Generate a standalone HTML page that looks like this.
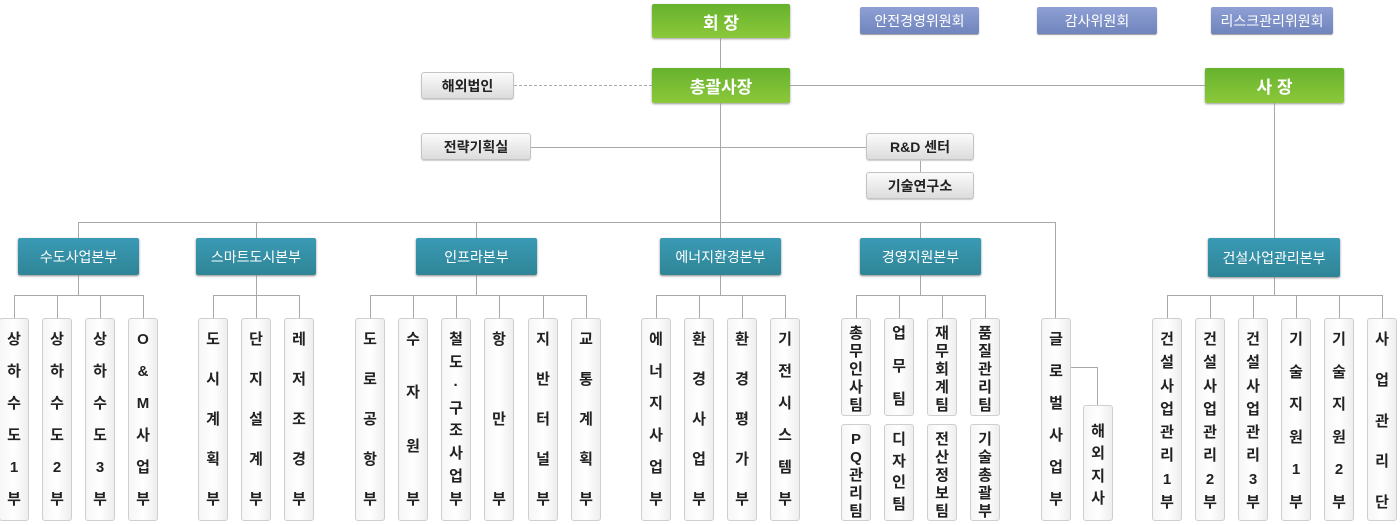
<!DOCTYPE html>
<html><head><meta charset="utf-8"><style>
body{margin:0;width:1400px;height:525px;position:relative;background:#fff;overflow:hidden;font-family:"Liberation Sans","Noto Sans CJK KR",sans-serif}
div{box-sizing:border-box}
.a{position:absolute}
.h{position:absolute;height:1px;background:#a8a8a8}
.v{position:absolute;width:1px;background:#a8a8a8}
.g{position:absolute;background:linear-gradient(#66b22e,#8cc83a);color:#fff;font-weight:bold;font-size:17px;display:flex;align-items:center;justify-content:center;border-radius:2px;box-shadow:0 1px 2px #999}
.c{position:absolute;background:linear-gradient(#8ea0d4,#7084bd);color:#fff;font-size:14px;display:flex;align-items:center;justify-content:center;border-radius:2px;box-shadow:0 1px 1px #999;top:7px;height:27px}
.b{position:absolute;background:linear-gradient(#fbfbfb,#dcdcdc);border:1px solid #c4c4c4;color:#222;font-weight:bold;font-size:14px;display:flex;align-items:center;justify-content:center;border-radius:3px;height:27px;box-shadow:0 1px 1px #ccc}
.t{position:absolute;top:238px;height:37px;background:linear-gradient(#3a9ab5,#2f8596);color:#fff;font-size:14px;display:flex;align-items:center;justify-content:center;border-radius:2px;box-shadow:0 1px 2px #888}
.l{position:absolute;top:318px;height:203px;width:30px;background:linear-gradient(90deg,#f6f6f6,#fff 50%,#eee);border:1px solid #cfcfcf;border-radius:3px;display:flex;flex-direction:column;justify-content:space-between;align-items:center;padding:12px 0 11px;font-size:15px;font-weight:bold;color:#222;line-height:18px}
.s{top:318px;height:98px;padding:6px 0}
.s2{top:424px;height:97px;padding:6px 0}
</style></head><body>
<!-- lines -->
<div class="v" style="left:720px;top:38px;height:184px"></div>
<div class="a" style="left:514px;top:85px;width:138px;border-top:1px dashed #aaa"></div>
<div class="h" style="left:790px;top:85px;width:415px"></div>
<div class="h" style="left:531px;top:147px;width:335px"></div>
<div class="v" style="left:920px;top:160px;height:12px"></div>
<div class="h" style="left:78px;top:222px;width:978px"></div>
<div class="v" style="left:78px;top:222px;height:16px"></div>
<div class="v" style="left:256px;top:222px;height:16px"></div>
<div class="v" style="left:476px;top:222px;height:16px"></div>
<div class="v" style="left:720px;top:222px;height:16px"></div>
<div class="v" style="left:920px;top:222px;height:16px"></div>
<div class="v" style="left:1055px;top:222px;height:96px"></div>
<div class="v" style="left:1274px;top:103px;height:135px"></div>
<!-- branch lines -->
<div class="v" style="left:78px;top:275px;height:20px"></div><div class="h" style="left:14px;top:295px;width:130px"></div>
<div class="v" style="left:14px;top:295px;height:23px"></div><div class="v" style="left:57px;top:295px;height:23px"></div><div class="v" style="left:100px;top:295px;height:23px"></div><div class="v" style="left:143px;top:295px;height:23px"></div>
<div class="v" style="left:256px;top:275px;height:20px"></div><div class="h" style="left:213px;top:295px;width:86px"></div>
<div class="v" style="left:213px;top:295px;height:23px"></div><div class="v" style="left:256px;top:295px;height:23px"></div><div class="v" style="left:299px;top:295px;height:23px"></div>
<div class="v" style="left:476px;top:275px;height:20px"></div><div class="h" style="left:370px;top:295px;width:216px"></div>
<div class="v" style="left:370px;top:295px;height:23px"></div><div class="v" style="left:413px;top:295px;height:23px"></div><div class="v" style="left:456px;top:295px;height:23px"></div><div class="v" style="left:499px;top:295px;height:23px"></div><div class="v" style="left:543px;top:295px;height:23px"></div><div class="v" style="left:586px;top:295px;height:23px"></div>
<div class="v" style="left:720px;top:275px;height:20px"></div><div class="h" style="left:656px;top:295px;width:130px"></div>
<div class="v" style="left:656px;top:295px;height:23px"></div><div class="v" style="left:699px;top:295px;height:23px"></div><div class="v" style="left:742px;top:295px;height:23px"></div><div class="v" style="left:785px;top:295px;height:23px"></div>
<div class="v" style="left:920px;top:275px;height:20px"></div><div class="h" style="left:856px;top:295px;width:130px"></div>
<div class="v" style="left:856px;top:295px;height:23px"></div><div class="v" style="left:899px;top:295px;height:23px"></div><div class="v" style="left:942px;top:295px;height:23px"></div><div class="v" style="left:985px;top:295px;height:23px"></div>
<div class="h" style="left:1070px;top:367px;width:27px"></div><div class="v" style="left:1097px;top:367px;height:38px"></div>
<div class="v" style="left:1274px;top:277px;height:18px"></div><div class="h" style="left:1167px;top:295px;width:216px"></div>
<div class="v" style="left:1167px;top:295px;height:23px"></div><div class="v" style="left:1210px;top:295px;height:23px"></div><div class="v" style="left:1253px;top:295px;height:23px"></div><div class="v" style="left:1296px;top:295px;height:23px"></div><div class="v" style="left:1339px;top:295px;height:23px"></div><div class="v" style="left:1382px;top:295px;height:23px"></div>
<!-- top boxes -->
<div class="g" style="left:652px;top:4px;width:138px;height:34px">회 장</div>
<div class="g" style="left:652px;top:68px;width:138px;height:35px">총괄사장</div>
<div class="g" style="left:1205px;top:68px;width:139px;height:35px">사 장</div>
<div class="c" style="left:860px;width:119px">안전경영위원회</div>
<div class="c" style="left:1037px;width:120px">감사위원회</div>
<div class="c" style="left:1211px;width:122px">리스크관리위원회</div>
<div class="b" style="left:421px;top:72px;width:93px">해외법인</div>
<div class="b" style="left:421px;top:133px;width:110px">전략기획실</div>
<div class="b" style="left:866px;top:133px;width:108px">R&amp;D 센터</div>
<div class="b" style="left:866px;top:172px;width:108px">기술연구소</div>
<!-- divisions -->
<div class="t" style="left:18px;width:121px">수도사업본부</div>
<div class="t" style="left:196px;width:120px">스마트도시본부</div>
<div class="t" style="left:416px;width:121px">인프라본부</div>
<div class="t" style="left:660px;width:121px">에너지환경본부</div>
<div class="t" style="left:860px;width:121px">경영지원본부</div>
<div class="t" style="left:1208px;width:132px;height:39px">건설사업관리본부</div>
<!-- leaves -->
<div class="l" style="left:-1px"><span>상</span><span>하</span><span>수</span><span>도</span><span>1</span><span>부</span></div>
<div class="l" style="left:42px"><span>상</span><span>하</span><span>수</span><span>도</span><span>2</span><span>부</span></div>
<div class="l" style="left:85px"><span>상</span><span>하</span><span>수</span><span>도</span><span>3</span><span>부</span></div>
<div class="l" style="left:128px"><span>O</span><span>&amp;</span><span>M</span><span>사</span><span>업</span><span>부</span></div>
<div class="l" style="left:198px"><span>도</span><span>시</span><span>계</span><span>획</span><span>부</span></div>
<div class="l" style="left:241px"><span>단</span><span>지</span><span>설</span><span>계</span><span>부</span></div>
<div class="l" style="left:284px"><span>레</span><span>저</span><span>조</span><span>경</span><span>부</span></div>
<div class="l" style="left:355px"><span>도</span><span>로</span><span>공</span><span>항</span><span>부</span></div>
<div class="l" style="left:398px"><span>수</span><span>자</span><span>원</span><span>부</span></div>
<div class="l" style="left:441px"><span>철</span><span>도</span><span>·</span><span>구</span><span>조</span><span>사</span><span>업</span><span>부</span></div>
<div class="l" style="left:484px"><span>항</span><span>만</span><span>부</span></div>
<div class="l" style="left:528px"><span>지</span><span>반</span><span>터</span><span>널</span><span>부</span></div>
<div class="l" style="left:571px"><span>교</span><span>통</span><span>계</span><span>획</span><span>부</span></div>
<div class="l" style="left:641px"><span>에</span><span>너</span><span>지</span><span>사</span><span>업</span><span>부</span></div>
<div class="l" style="left:684px"><span>환</span><span>경</span><span>사</span><span>업</span><span>부</span></div>
<div class="l" style="left:727px"><span>환</span><span>경</span><span>평</span><span>가</span><span>부</span></div>
<div class="l" style="left:770px"><span>기</span><span>전</span><span>시</span><span>스</span><span>템</span><span>부</span></div>
<div class="l s" style="left:841px"><span>총</span><span>무</span><span>인</span><span>사</span><span>팀</span></div>
<div class="l s" style="left:884px"><span>업</span><span>무</span><span>팀</span></div>
<div class="l s" style="left:927px"><span>재</span><span>무</span><span>회</span><span>계</span><span>팀</span></div>
<div class="l s" style="left:970px"><span>품</span><span>질</span><span>관</span><span>리</span><span>팀</span></div>
<div class="l s2" style="left:841px"><span>P</span><span>Q</span><span>관</span><span>리</span><span>팀</span></div>
<div class="l s2" style="left:884px"><span>디</span><span>자</span><span>인</span><span>팀</span></div>
<div class="l s2" style="left:927px"><span>전</span><span>산</span><span>정</span><span>보</span><span>팀</span></div>
<div class="l s2" style="left:970px"><span>기</span><span>술</span><span>총</span><span>괄</span><span>부</span></div>
<div class="l" style="left:1041px"><span>글</span><span>로</span><span>벌</span><span>사</span><span>업</span><span>부</span></div>
<div class="l" style="left:1083px;top:405px;height:116px;padding:17px 0 12px"><span>해</span><span>외</span><span>지</span><span>사</span></div>
<div class="l" style="left:1152px;padding-bottom:8px"><span>건</span><span>설</span><span>사</span><span>업</span><span>관</span><span>리</span><span>1</span><span>부</span></div>
<div class="l" style="left:1195px;padding-bottom:8px"><span>건</span><span>설</span><span>사</span><span>업</span><span>관</span><span>리</span><span>2</span><span>부</span></div>
<div class="l" style="left:1238px;padding-bottom:8px"><span>건</span><span>설</span><span>사</span><span>업</span><span>관</span><span>리</span><span>3</span><span>부</span></div>
<div class="l" style="left:1281px;padding-bottom:8px"><span>기</span><span>술</span><span>지</span><span>원</span><span>1</span><span>부</span></div>
<div class="l" style="left:1324px;padding-bottom:8px"><span>기</span><span>술</span><span>지</span><span>원</span><span>2</span><span>부</span></div>
<div class="l" style="left:1367px;padding-bottom:8px"><span>사</span><span>업</span><span>관</span><span>리</span><span>단</span></div>
</body></html>
